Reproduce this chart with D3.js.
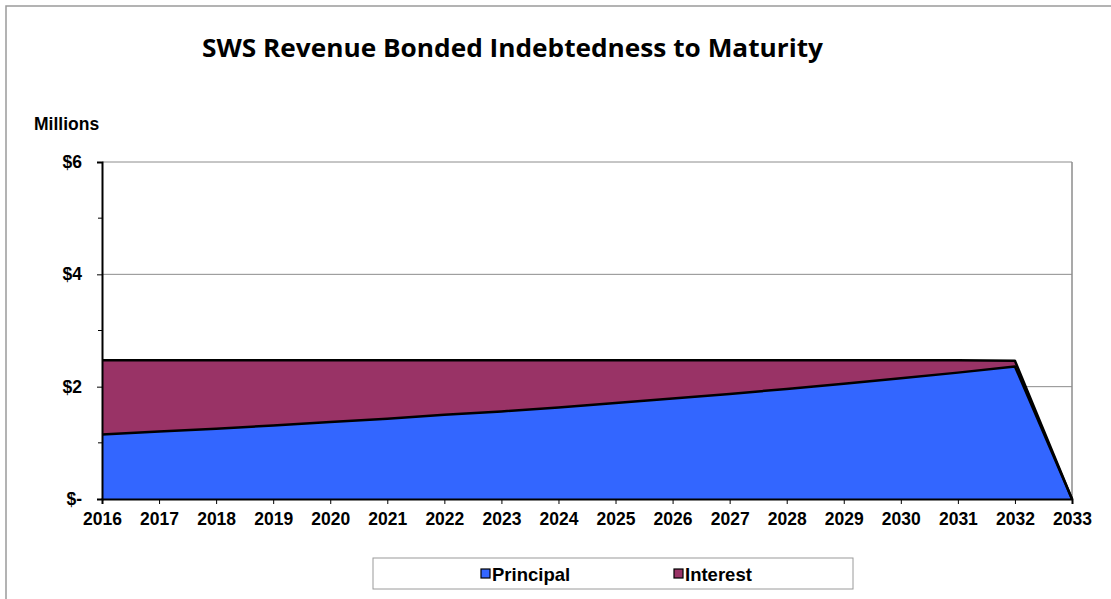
<!DOCTYPE html>
<html>
<head>
<meta charset="utf-8">
<script src="https://cdn.jsdelivr.net/npm/d3@7"></script>
<style>
  body { margin: 0; background: #fff; }
  svg { display: block; }
  .axis text { font-family: "Liberation Sans", Arial, sans-serif; font-weight: bold; font-size: 17.5px; fill: #000; }
</style>
</head>
<body>
<div id="chart"></div>
<script>
// values, $ millions
var years = [2016, 2017, 2018, 2019, 2020, 2021, 2022, 2023, 2024, 2025, 2026, 2027, 2028, 2029, 2030, 2031, 2032, 2033];
var principal = [1.15, 1.20, 1.25, 1.31, 1.37, 1.43, 1.50, 1.56, 1.63, 1.71, 1.79, 1.87, 1.96, 2.05, 2.15, 2.25, 2.36, 0];
var interest = [1.32, 1.27, 1.22, 1.16, 1.10, 1.04, 0.97, 0.91, 0.84, 0.76, 0.68, 0.60, 0.51, 0.42, 0.32, 0.22, 0.10, 0];
var yTicks = [0, 2, 4, 6];
var yMinor = [1, 3, 5];
var seriesNames = ["Principal", "Interest"];
var seriesColors = ["#3366ff", "#993366"];

var width = 1111, height = 599;
var plotLeft = 102, plotRight = 1072, plotTop = 162, plotBottom = 499;

var svg = d3.select("#chart").append("svg")
    .attr("width", width)
    .attr("height", height);

// outer chart border (runs off the right/bottom of the window)
svg.append("rect")
    .attr("x", 6).attr("y", 6)
    .attr("width", 1120).attr("height", 620)
    .attr("fill", "none")
    .attr("stroke", "#9a9a9a")
    .attr("stroke-width", 1.5);

svg.append("text")
    .attr("x", 202).attr("y", 57)
    .attr("textLength", 621)
    .attr("lengthAdjust", "spacingAndGlyphs")
    .style("font-family", "'Open Sans', Lato, sans-serif")
    .style("font-weight", "bold")
    .style("font-size", "24.5px")
    .text("SWS Revenue Bonded Indebtedness to Maturity");

svg.append("text")
    .attr("x", 34).attr("y", 130)
    .style("font-family", "'Liberation Sans', Arial, sans-serif")
    .style("font-weight", "bold")
    .style("font-size", "17.5px")
    .text("Millions");

var x = d3.scaleLinear().domain([years[0], years[years.length - 1]]).range([plotLeft, plotRight]);
var y = d3.scaleLinear().domain([0, 6]).range([plotBottom, plotTop]);

// gridlines
svg.selectAll(".grid")
    .data(yTicks.filter(function (d) { return d > 0; }))
    .enter()
    .append("line")
    .attr("class", "grid")
    .attr("x1", plotLeft).attr("x2", plotRight)
    .attr("y1", function (d) { return y(d); })
    .attr("y2", function (d) { return y(d); })
    .attr("stroke", "#8c8c8c")
    .attr("stroke-width", 1);

// right edge of plot
svg.append("line")
    .attr("x1", plotRight).attr("x2", plotRight)
    .attr("y1", plotTop).attr("y2", plotBottom)
    .attr("stroke", "#8c8c8c")
    .attr("stroke-width", 1.5);

var rows = years.map(function (yr, i) {
    return { year: yr, Principal: principal[i], Interest: interest[i] };
});
var stacked = d3.stack().keys(seriesNames)(rows);

var area = d3.area()
    .x(function (d) { return x(d.data.year); })
    .y0(function (d) { return y(d[0]); })
    .y1(function (d) { return y(d[1]); });

var topLine = d3.line()
    .x(function (d) { return x(d.data.year); })
    .y(function (d) { return y(d[1]); });

svg.selectAll(".layer")
    .data(stacked)
    .enter()
    .append("path")
    .attr("class", "layer")
    .attr("d", area)
    .attr("fill", function (d, i) { return seriesColors[i]; });

svg.selectAll(".edge")
    .data(stacked.slice().reverse())
    .enter()
    .append("path")
    .attr("class", "edge")
    .attr("d", topLine)
    .attr("fill", "none")
    .attr("stroke", "#000")
    .attr("stroke-width", 2.5)
    .attr("stroke-linejoin", "round");

// axes
var yAxis = svg.append("g")
    .attr("class", "axis")
    .attr("transform", "translate(" + plotLeft + ",0)")
    .call(d3.axisLeft(y).tickValues(yTicks).tickSize(5).tickPadding(15)
        .tickFormat(function (d) { return d === 0 ? "$-" : "$" + d; }));
yAxis.select(".domain").attr("stroke", "#000").attr("stroke-width", 2);

svg.append("g")
    .attr("transform", "translate(" + plotLeft + ",0)")
    .selectAll("line")
    .data(yMinor)
    .enter()
    .append("line")
    .attr("x1", -4).attr("x2", 0)
    .attr("y1", function (d) { return y(d); })
    .attr("y2", function (d) { return y(d); })
    .attr("stroke", "#000");

var xAxis = svg.append("g")
    .attr("class", "axis")
    .attr("transform", "translate(0," + plotBottom + ")")
    .call(d3.axisBottom(x).tickValues(years).tickSize(5).tickPadding(9)
        .tickFormat(d3.format("d")));
xAxis.select(".domain").attr("stroke", "#000").attr("stroke-width", 2);

// legend
var lg = svg.append("g");
lg.append("rect")
    .attr("x", 373).attr("y", 558)
    .attr("width", 480).attr("height", 31)
    .attr("fill", "#fff")
    .attr("stroke", "#9a9a9a")
    .attr("stroke-width", 1);

var legendX = [481, 674];
var items = lg.selectAll(".item")
    .data(seriesNames)
    .enter()
    .append("g")
    .attr("transform", function (d, i) { return "translate(" + legendX[i] + ",574)"; });

items.append("rect")
    .attr("x", 0).attr("y", -5)
    .attr("width", 9).attr("height", 9)
    .attr("fill", function (d, i) { return seriesColors[i]; })
    .attr("stroke", "#000")
    .attr("stroke-width", 1.2);

items.append("text")
    .attr("x", 11).attr("y", 7)
    .style("font-family", "'Liberation Sans', Arial, sans-serif")
    .style("font-weight", "bold")
    .style("font-size", "18.5px")
    .text(function (d) { return d; });
</script>
</body>
</html>
